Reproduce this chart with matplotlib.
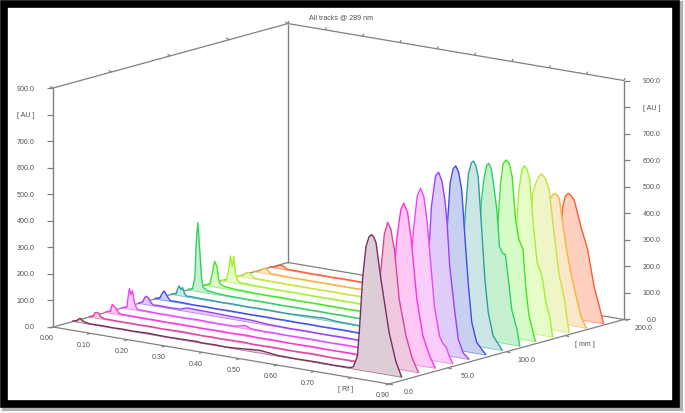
import matplotlib
matplotlib.use('Agg')
import matplotlib.pyplot as plt
from matplotlib.patches import Rectangle
from matplotlib.transforms import Affine2D

plt.rcParams['font.family'] = ['Liberation Sans', 'DejaVu Sans']

# track position on the mm axis
track_mm = [17, 31, 45, 59, 73, 87, 101, 115, 129, 143, 157, 171, 185]

line_colors = ['#7a2f5e', '#e040a0', '#ff30e0', '#e848f8', '#9a40f8', '#4050e8', '#2f9f9f',
               '#30d060', '#40e820', '#a0f030', '#c8e040', '#f8b040', '#ff5a30']
fill_colors = ['#dccdd6', '#f0c8e0', '#ffc8f5', '#fbcdfd', '#e0ccfb', '#c8d0f2', '#cce6e6',
               '#c5f0d0', '#d6fdc8', '#e6fdc8', '#f0f5c8', '#fbe8c8', '#ffd0c0']

# small peak near the start line
small_rf = [
    [0.0, 0.01, 0.016, 0.02, 0.025, 0.03, 0.04],
    [0.0, 0.01, 0.015, 0.02, 0.025, 0.03, 0.04],
    [0.0, 0.012, 0.017, 0.021, 0.027, 0.033, 0.04],
    [0.0, 0.012, 0.016, 0.019, 0.023, 0.027, 0.033, 0.04],
    [0.0, 0.01, 0.016, 0.02, 0.026, 0.033, 0.04],
    [0.0, 0.012, 0.019, 0.024, 0.029, 0.035, 0.04],
    [0.0, 0.012, 0.016, 0.02, 0.025, 0.029, 0.035, 0.04],
    [0.0, 0.012, 0.018, 0.022, 0.026, 0.03, 0.036, 0.04],
    [0.0, 0.014, 0.02, 0.027, 0.033, 0.037, 0.04],
    [0.0, 0.014, 0.02, 0.025, 0.03, 0.034, 0.039, 0.045],
    [0.0, 0.014, 0.022, 0.029, 0.036, 0.042, 0.045],
    [0.0, 0.015, 0.024, 0.03, 0.037, 0.043, 0.045],
    [0.0, 0.015, 0.023, 0.029, 0.037, 0.043, 0.045],
]
small_au = [
    [2, 5, 14, 16, 10, 6, 3],
    [2, 6, 20, 22, 20, 8, 3],
    [2, 8, 34, 30, 22, 8, 3],
    [2, 6, 50, 78, 55, 72, 25, 4],
    [2, 8, 26, 32, 26, 10, 3],
    [2, 6, 26, 36, 25, 12, 3],
    [2, 5, 25, 37, 24, 33, 10, 3],
    [2, 8, 50, 190, 260, 180, 55, 20],
    [2, 8, 45, 97, 80, 40, 18],
    [2, 6, 40, 100, 60, 100, 35, 12],
    [2, 6, 18, 22, 18, 8, 4],
    [2, 6, 18, 21, 15, 6, 4],
    [2, 5, 13, 15, 11, 5, 3],
]

# flat part of the lane
base_rf = [0.05, 0.08, 0.11, 0.13, 0.16, 0.20, 0.25, 0.30, 0.33, 0.345, 0.38, 0.41, 0.44, 0.50, 0.55, 0.60, 0.65, 0.70, 0.73]
base_au = [
    [2, 3, 2, 3, 2, 4, 2, 3, 4, 2, 3, 2, 4, 11, 3, 2, 3, 2, 3],
    [3, 2, 3, 2, 3, 2, 4, 2, 3, 2, 3, 4, 2, 3, 2, 4, 2, 3, 3],
    [3, 3, 2, 3, 2, 3, 2, 3, 2, 3, 4, 2, 3, 2, 3, 2, 3, 2, 3],
    [4, 3, 2, 3, 2, 4, 2, 3, 12, 4, 2, 3, 2, 3, 2, 3, 2, 3, 3],
    [5, 4, 5, 14, 13, 12, 10, 9, 6, 4, 3, 2, 3, 2, 3, 2, 3, 2, 3],
    [4, 3, 2, 3, 2, 3, 2, 3, 2, 3, 2, 3, 2, 3, 2, 3, 2, 2, 3],
    [4, 3, 3, 2, 3, 2, 3, 2, 3, 4, 6, 8, 4, 2, 3, 2, 3, 2, 3],
    [10, 5, 3, 3, 2, 3, 2, 3, 2, 3, 2, 3, 2, 3, 2, 3, 2, 3, 3],
    [9, 5, 4, 3, 2, 3, 2, 3, 2, 3, 2, 3, 2, 3, 2, 3, 2, 3, 3],
    [6, 4, 3, 3, 2, 3, 2, 3, 2, 3, 2, 3, 2, 3, 2, 3, 2, 3, 3],
    [4, 3, 3, 2, 3, 2, 3, 2, 3, 2, 3, 2, 3, 2, 3, 2, 3, 2, 3],
    [4, 3, 2, 3, 2, 3, 2, 3, 2, 3, 2, 3, 2, 3, 2, 3, 2, 3, 3],
    [3, 3, 2, 3, 2, 3, 2, 3, 2, 3, 2, 3, 2, 3, 2, 3, 2, 3, 3],
]

# main band
big_rf = [
    [0.74, 0.751, 0.762, 0.768, 0.776, 0.785, 0.793, 0.80, 0.806, 0.812, 0.825, 0.847, 0.865, 0.88],
    [0.74, 0.752, 0.762, 0.77, 0.781, 0.79, 0.799, 0.807, 0.817, 0.83, 0.848, 0.865, 0.881],
    [0.74, 0.752, 0.762, 0.769, 0.775, 0.779, 0.79, 0.798, 0.808, 0.818, 0.833, 0.849, 0.867, 0.882],
    [0.74, 0.752, 0.762, 0.77, 0.776, 0.78, 0.79, 0.799, 0.808, 0.816, 0.823, 0.836, 0.85, 0.86, 0.868, 0.875, 0.885],
    [0.74, 0.755, 0.765, 0.772, 0.778, 0.784, 0.795, 0.803, 0.812, 0.82, 0.826, 0.833, 0.847, 0.856, 0.869, 0.884],
    [0.745, 0.758, 0.768, 0.776, 0.783, 0.79, 0.798, 0.805, 0.813, 0.821, 0.83, 0.839, 0.848, 0.861, 0.885],
    [0.75, 0.762, 0.772, 0.78, 0.786, 0.795, 0.803, 0.808, 0.815, 0.821, 0.83, 0.839, 0.848, 0.861, 0.885],
    [0.75, 0.765, 0.775, 0.78, 0.785, 0.792, 0.80, 0.805, 0.812, 0.818, 0.827, 0.834, 0.842, 0.85, 0.859, 0.867, 0.881, 0.888],
    [0.755, 0.77, 0.78, 0.788, 0.793, 0.80, 0.808, 0.816, 0.824, 0.833, 0.842, 0.853, 0.86, 0.869, 0.886],
    [0.76, 0.775, 0.785, 0.792, 0.798, 0.806, 0.812, 0.82, 0.827, 0.836, 0.847, 0.86, 0.869, 0.882, 0.888],
    [0.76, 0.772, 0.78, 0.79, 0.799, 0.808, 0.815, 0.825, 0.835, 0.848, 0.861, 0.876, 0.888],
    [0.76, 0.772, 0.78, 0.787, 0.794, 0.80, 0.807, 0.812, 0.818, 0.836, 0.849, 0.863, 0.876, 0.89],
    [0.755, 0.768, 0.775, 0.783, 0.79, 0.798, 0.806, 0.814, 0.832, 0.85, 0.867, 0.881, 0.892],
]
big_au = [
    [3, 8, 52, 166, 350, 470, 508, 518, 510, 489, 355, 160, 55, 2],
    [3, 6, 60, 190, 366, 500, 547, 525, 449, 264, 131, 50, 2],
    [3, 6, 55, 230, 375, 460, 575, 602, 570, 470, 249, 115, 44, 2],
    [3, 6, 55, 260, 395, 481, 610, 641, 610, 526, 415, 206, 95, 68, 59, 30, 2],
    [3, 6, 60, 240, 400, 552, 670, 686, 655, 585, 499, 337, 166, 69, 21, 2],
    [3, 8, 70, 290, 472, 625, 680, 693, 670, 606, 421, 249, 114, 42, 2],
    [3, 8, 80, 310, 481, 645, 688, 695, 680, 639, 454, 256, 134, 49, 2],
    [3, 8, 90, 300, 514, 603, 660, 669, 650, 596, 499, 362, 340, 335, 231, 132, 61, 2],
    [3, 10, 150, 472, 574, 650, 665, 655, 606, 446, 374, 339, 203, 92, 2],
    [3, 10, 190, 406, 533, 610, 628, 615, 578, 417, 270, 224, 138, 65, 2],
    [3, 15, 230, 495, 541, 570, 580, 565, 525, 365, 217, 121, 2],
    [3, 15, 180, 400, 466, 480, 488, 483, 471, 294, 198, 114, 41, 2],
    [3, 20, 200, 415, 455, 469, 462, 447, 351, 269, 135, 64, 2],
]

au_ticks = [0, 100, 200, 300, 400, 500, 600, 700, 800, 900]
au_labels = ['0.0', '100.0', '200.0', '300.0', '400.0', '500.0', '600.0', '700.0', '[ AU ]', '900.0']
rf_ticks = [0.0, 0.1, 0.2, 0.3, 0.4, 0.5, 0.6, 0.7, 0.8, 0.9]
rf_labels = ['0.00', '0.10', '0.20', '0.30', '0.40', '0.50', '0.60', '0.70', '[ Rf ]', '0.90']
mm_ticks = [0, 50, 100, 150, 200]
mm_labels = ['0.0', '50.0', '100.0', '[ mm ]', '200.0']

fig = plt.figure(figsize=(6.85, 4.14), dpi=100)
ax = fig.add_axes([0, 0, 1, 1])
ax.set_xlim(0, 685)
ax.set_ylim(414, 0)
ax.axis('off')

# oblique view: px per unit of Rf, mm and AU
ox, oy = 53, 328
rf_dx, rf_dy = 373.3, 63.3
mm_dx, mm_dy = 1.175, -0.3225
au_dy = -0.2655


def lane(mm):
    # (rf, au) of one lane -> picture
    m = Affine2D.from_values(rf_dx, rf_dy, 0, au_dy, ox + mm_dx * mm, oy + mm_dy * mm)
    return m + ax.transData


def pt(rf, mm, au=0):
    return ox + rf_dx * rf + mm_dx * mm, oy + rf_dy * rf + mm_dy * mm + au_dy * au


def seg(a, b, **kw):
    ax.plot([a[0], b[0]], [a[1], b[1]], color='#808080', lw=kw.get('lw', 0.9), solid_capstyle='butt')


# frame and shadow
ax.add_patch(Rectangle((0, 0), 685, 414, fc='#f4f4f4', ec='none', zorder=0))
ax.add_patch(Rectangle((2, 2), 681, 410, fc='#b0b0b0', ec='none', zorder=0))
ax.add_patch(Rectangle((4.5, 4.5), 672, 400.5, fc='white', ec='black', lw=5.5, zorder=1))

# box edges
for rf, mm in [(0, 0), (0, 200), (0.9, 200)]:
    seg(pt(rf, mm), pt(rf, mm, 900), lw=1.0)
seg(pt(0, 0, 900), pt(0, 200, 900))
seg(pt(0, 200, 900), pt(0.9, 200, 900))
seg(pt(0, 0), pt(0.9, 0))
seg(pt(0.9, 0), pt(0.9, 200))
seg(pt(0, 0), pt(0, 200))
seg(pt(0, 200), pt(0.9, 200))

# ticks and labels
txt = dict(fontsize=5.1, color='#505050', va='center')
for a, s in zip(au_ticks, au_labels):
    x, y = pt(0, 0, a)
    seg((x - 6, y), (x, y))
    ax.text(34.5, y, s, ha='right', **txt)
    x, y = pt(0.9, 200, a)
    seg((x, y), (x + 6, y))
    ax.text(652, y, s, ha='center', **txt)
for r, s in zip(rf_ticks, rf_labels):
    x, y = pt(r, 0)
    seg((x - 3.5, y + 1), (x, y))
    ax.text(x - 6.3, y + 11, s, ha='center', **txt)
    x, y = pt(r, 200, 900)
    seg((x, y), (x + 1, y - 2.5))
for m, s in zip(mm_ticks, mm_labels):
    x, y = pt(0.9, m)
    seg((x, y), (x + 4, y + 1))
    ax.text(x + 20, y + 8, s, ha='center', **txt)
    x, y = pt(0, m, 900)
    seg((x - 3, y - 1.5), (x, y))

ax.text(341, 18, 'All tracks @ 289 nm', ha='center', **txt)

# back lane first so the front ones cover it
for i in range(len(track_mm) - 1, -1, -1):
    rf = small_rf[i] + base_rf + big_rf[i]
    au = small_au[i] + base_au[i] + big_au[i]
    tr = lane(track_mm[i])
    ax.fill_between(rf, 0, au, color=fill_colors[i], lw=0, transform=tr, zorder=3)
    ax.plot(rf, au, color=line_colors[i], lw=1.0, transform=tr, zorder=3, solid_joinstyle='round')
    ax.plot([rf[0], rf[-1]], [0, 0], color=line_colors[i], lw=0.5, alpha=0.6, transform=tr, zorder=3)

fig.savefig('out.png', dpi=100)
